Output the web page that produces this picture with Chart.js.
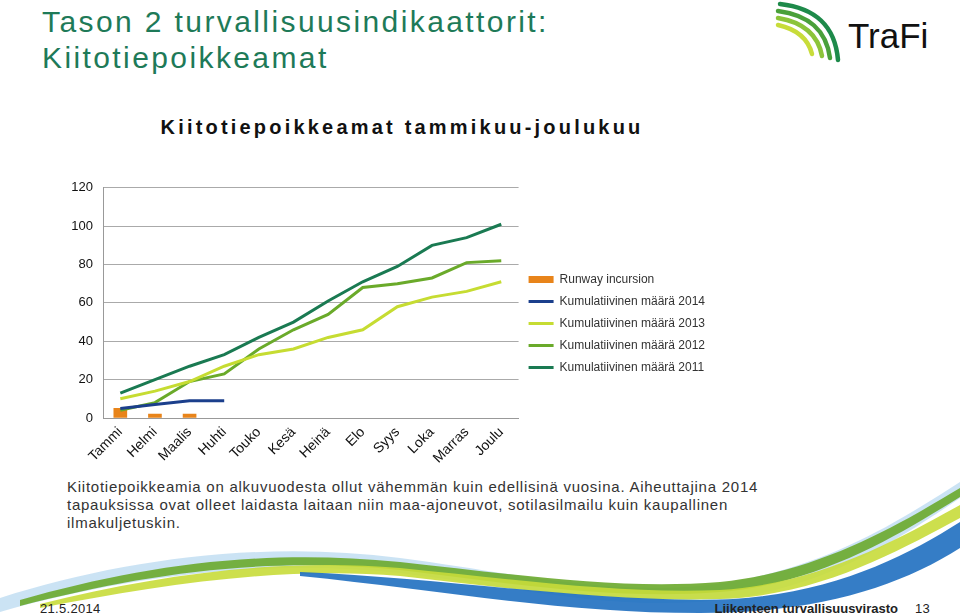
<!DOCTYPE html>
<html>
<head>
<meta charset="utf-8">
<script src="https://cdn.jsdelivr.net/npm/chart.js@4.4.1/dist/chart.umd.min.js"></script>
<style>
  html, body { margin: 0; padding: 0; background: #fff; }
  body { width: 960px; height: 615px; position: relative; overflow: hidden; font-family: "Liberation Sans", Arial, sans-serif; }
  .title { position: absolute; left: 42px; top: 4px; font-size: 30px; line-height: 36px; color: #1e7a58; letter-spacing: 2.4px; }
  .ctitle { position: absolute; left: 0; width: 804px; top: 116px; text-align: center; font-size: 20px; font-weight: bold; color: #111; letter-spacing: 3.2px; }
  .para { position: absolute; left: 67px; top: 478px; width: 860px; font-size: 15px; line-height: 18px; color: #333; letter-spacing: 0.75px; white-space: nowrap; }
  .foot { position: absolute; top: 601px; font-size: 13px; color: #222; letter-spacing: 0.3px; }
  #wrap { position: absolute; left: 30px; top: 170px; width: 685px; height: 305px; }
  svg { position: absolute; }
</style>
</head>
<body>
<svg width="960" height="615" style="left:0;top:0">
  <!-- decorative swoosh -->
  <path d="M0,598 C120,560 260,540 400,558 C520,574 600,594 700,586 C820,574 900,520 960,482 L960,498 C900,538 820,594 700,602 C600,608 520,588 400,573 C260,558 120,578 0,612 Z" fill="#a9d0ec" opacity="0.6"/>
  <path d="M20,600 C140,566 260,548 400,562 C520,575 620,590 720,582 C820,572 900,524 960,488 L960,497 C900,534 820,584 720,592 C620,600 520,585 400,570 C260,556 140,575 20,606 Z" fill="#6aa82c" opacity="0.9"/>
  <path d="M40,604 C160,574 280,558 400,568 C520,580 620,594 720,590 C820,584 900,538 960,505 L960,518 C900,550 820,596 720,599 C620,602 520,590 400,576 C280,566 160,585 40,608 Z" fill="#c8dc3a" opacity="0.9"/>
  <path d="M300,572 C440,578 560,598 700,600 C820,600 900,560 960,522 L960,548 C900,586 820,613 700,613 C560,613 440,590 300,576 Z" fill="#1f6fc0" opacity="0.9"/>
  <!-- logo -->
  <g fill="none" stroke-linecap="round">
    <path d="M780,4 C815,8 835,25 838,60" stroke="#1e8a4a" stroke-width="4.5"/>
    <path d="M778,11 C808,15 826,29 830,58" stroke="#4aa03a" stroke-width="4.5"/>
    <path d="M778,18 C802,22 818,34 822,56" stroke="#8cc43a" stroke-width="4.5"/>
    <path d="M778,25 C796,29 808,38 812,54" stroke="#c8dc3a" stroke-width="4.5"/>
  </g>
  <text x="848" y="48" font-family="Liberation Sans, Arial, sans-serif" font-size="35" fill="#111">TraFi</text>
</svg>

<div class="title">Tason 2 turvallisuusindikaattorit:<br>Kiitotiepoikkeamat</div>
<div class="ctitle">Kiitotiepoikkeamat tammikuu-joulukuu</div>
<div id="wrap"><canvas id="c" width="685" height="305"></canvas></div>
<div class="para">Kiitotiepoikkeamia on alkuvuodesta ollut vähemmän kuin edellisinä vuosina. Aiheuttajina 2014<br>tapauksissa ovat olleet laidasta laitaan niin maa-ajoneuvot, sotilasilmailu kuin kaupallinen<br>ilmakuljetuskin.</div>
<div class="foot" style="left:40px">21.5.2014</div>
<div class="foot" style="right:62px;font-weight:bold;text-align:right;letter-spacing:0">Liikenteen turvallisuusvirasto</div>
<div class="foot" style="left:915px">13</div>

<script>
const months = ["Tammi","Helmi","Maalis","Huhti","Touko","Kesä","Heinä","Elo","Syys","Loka","Marras","Joulu"];
const runwayIncursion = [5, 2, 2, null, null, null, null, null, null, null, null, null];
const kum2014 = [5, 7, 9, 9, null, null, null, null, null, null, null, null];
const kum2013 = [10, 14, 19, 27, 33, 36, 42, 46, 58, 63, 66, 71];
const kum2012 = [4, 8, 19, 23, 36, 46, 54, 68, 70, 73, 81, 82];
const kum2011 = [13, 20, 27, 33, 42, 50, 61, 71, 79, 90, 94, 101];
const yTicks = [0, 20, 40, 60, 80, 100, 120];

const lineDs = (label, data, color) => ({
  type: 'line', label, data, borderColor: color, backgroundColor: color,
  borderWidth: 3, pointRadius: 0, tension: 0, spanGaps: false, pointStyle: 'line', order: 1
});

new Chart(document.getElementById('c'), {
  data: {
    labels: months,
    datasets: [
      { type: 'bar', label: 'Runway incursion', data: runwayIncursion, backgroundColor: '#e8841a',
        borderWidth: 0, barThickness: 13, pointStyle: 'rect', order: 2 },
      lineDs('Kumulatiivinen määrä 2014', kum2014, '#1b3f8c'),
      lineDs('Kumulatiivinen määrä 2013', kum2013, '#c6dc32'),
      lineDs('Kumulatiivinen määrä 2012', kum2012, '#6aaa2a'),
      lineDs('Kumulatiivinen määrä 2011', kum2011, '#1a7a52')
    ]
  },
  options: {
    responsive: false,
    animation: false,
    layout: { padding: { top: 2, right: 0, bottom: 0, left: 0 } },
    plugins: {
      title: { display: false },
      tooltip: { enabled: false },
      legend: {
        position: 'right',
        align: 'center',
        maxWidth: 260,
        labels: {
          usePointStyle: true,
          pointStyleWidth: 25,
          boxHeight: 7,
          padding: 10,
          color: '#333',
          font: { family: 'Liberation Sans, Arial, sans-serif', size: 12 },
          sort: (a, b) => a.datasetIndex - b.datasetIndex
        }
      }
    },
    scales: {
      x: {
        offset: true,
        grid: { display: false, drawTicks: false },
        border: { display: true, color: '#999', width: 1 },
        ticks: { minRotation: 45, maxRotation: 45, padding: 6, color: '#111',
                 font: { family: 'Liberation Sans, Arial, sans-serif', size: 14 } },
        afterFit: (s) => { s.height = 57; }
      },
      y: {
        min: 0, max: 120,
        afterBuildTicks: (s) => { s.ticks = yTicks.map(v => ({ value: v })); },
        grid: { color: '#aaa', drawTicks: false, lineWidth: 1 },
        border: { display: true, color: '#999' },
        ticks: { padding: 10, color: '#111',
                 font: { family: 'Liberation Sans, Arial, sans-serif', size: 13 } },
        afterFit: (s) => { s.width = 73; }
      }
    }
  }
});
</script>
</body>
</html>
